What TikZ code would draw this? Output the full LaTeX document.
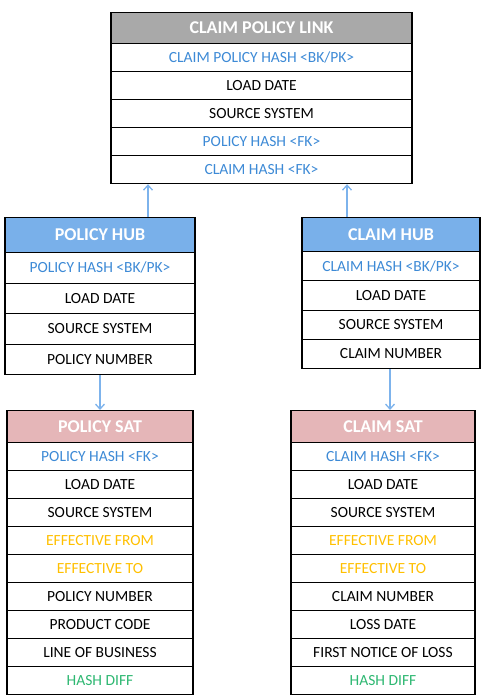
\documentclass[tikz,border=0pt]{standalone}
\usepackage{fontspec}
\setmainfont{Carlito}
\usepackage{xcolor}
\usetikzlibrary{arrows.meta}

\definecolor{linkgray}{HTML}{A9A9A9}
\definecolor{hubblue}{HTML}{79B0EA}
\definecolor{satpink}{HTML}{E5B6B8}
\definecolor{keyblue}{HTML}{3D8AD6}
\definecolor{effgold}{HTML}{FFC000}
\definecolor{diffgreen}{HTML}{2EB872}
\definecolor{arrowblue}{HTML}{7DB3EC}

\begin{document}
\begin{tikzpicture}[
  x=1pt,y=-1pt,
  every node/.style={draw,line width=1.2pt,inner sep=0pt,anchor=north},
  head/.style={font=\fontsize{18}{20}\selectfont\bfseries,text=white},
  cell/.style={font=\fontsize{15.5}{17}\selectfont,fill=white},
  conn/.style={draw=arrowblue,line width=1.3pt,-{Straight Barb[length=5pt,width=9pt]}},
]
\useasboundingbox (0,0) rectangle (485,700);
% link
\node[head,fill=linkgray,minimum width=301,minimum height=31](link) at(261.5,12){CLAIM POLICY LINK};
\foreach \t/\c [count=\i] in {{CLAIM POLICY HASH <BK/PK>}/keyblue,LOAD DATE/black,
    SOURCE SYSTEM/black,{POLICY HASH <FK>}/keyblue,{CLAIM HASH <FK>}/keyblue}
  \node[cell,text=\c,minimum width=301,minimum height=28](link\i) at(261.5,{43+28*(\i-1)}){\t};
% hubs
\node[head,fill=hubblue,minimum width=190,minimum height=35](phub) at(100,217){POLICY HUB};
\foreach \t/\c [count=\i] in {{POLICY HASH <BK/PK>}/keyblue,LOAD DATE/black,
    SOURCE SYSTEM/black,POLICY NUMBER/black}
  \node[cell,text=\c,minimum width=190,minimum height=30.5](phub\i) at(100,{252+30.5*(\i-1)}){\t};
\node[head,fill=hubblue,minimum width=178,minimum height=34](chub) at(391,217){CLAIM HUB};
\foreach \t/\c [count=\i] in {{CLAIM HASH <BK/PK>}/keyblue,LOAD DATE/black,
    SOURCE SYSTEM/black,CLAIM NUMBER/black}
  \node[cell,text=\c,minimum width=178,minimum height=29.25](chub\i) at(391,{251+29.25*(\i-1)}){\t};
% satellites
\node[head,fill=satpink,minimum width=186,minimum height=32](psat) at(100,410){POLICY SAT};
\foreach \t/\c [count=\i] in {{POLICY HASH <FK>}/keyblue,LOAD DATE/black,SOURCE SYSTEM/black,
    EFFECTIVE FROM/effgold,EFFECTIVE TO/effgold,POLICY NUMBER/black,PRODUCT CODE/black,
    LINE OF BUSINESS/black,HASH DIFF/diffgreen}
  \node[cell,text=\c,minimum width=186,minimum height=28](psat\i) at(100,{442+28*(\i-1)}){\t};
\node[head,fill=satpink,minimum width=184,minimum height=32](csat) at(383,410){CLAIM SAT};
\foreach \t/\c [count=\i] in {{CLAIM HASH <FK>}/keyblue,LOAD DATE/black,SOURCE SYSTEM/black,
    EFFECTIVE FROM/effgold,EFFECTIVE TO/effgold,CLAIM NUMBER/black,LOSS DATE/black,
    FIRST NOTICE OF LOSS/black,HASH DIFF/diffgreen}
  \node[cell,text=\c,minimum width=184,minimum height=28](csat\i) at(383,{442+28*(\i-1)}){\t};
% arrows
\draw[conn]([xshift=48]phub.north) -- ([xshift=48]phub.north |- link5.south);
\draw[conn]([xshift=-44]chub.north) -- ([xshift=-44]chub.north |- link5.south);
\draw[conn](phub4.south) -- (psat.north);
\draw[conn]([xshift=-1]chub4.south) -- ([xshift=-1]chub4.south |- csat.north);
\end{tikzpicture}
\end{document}
